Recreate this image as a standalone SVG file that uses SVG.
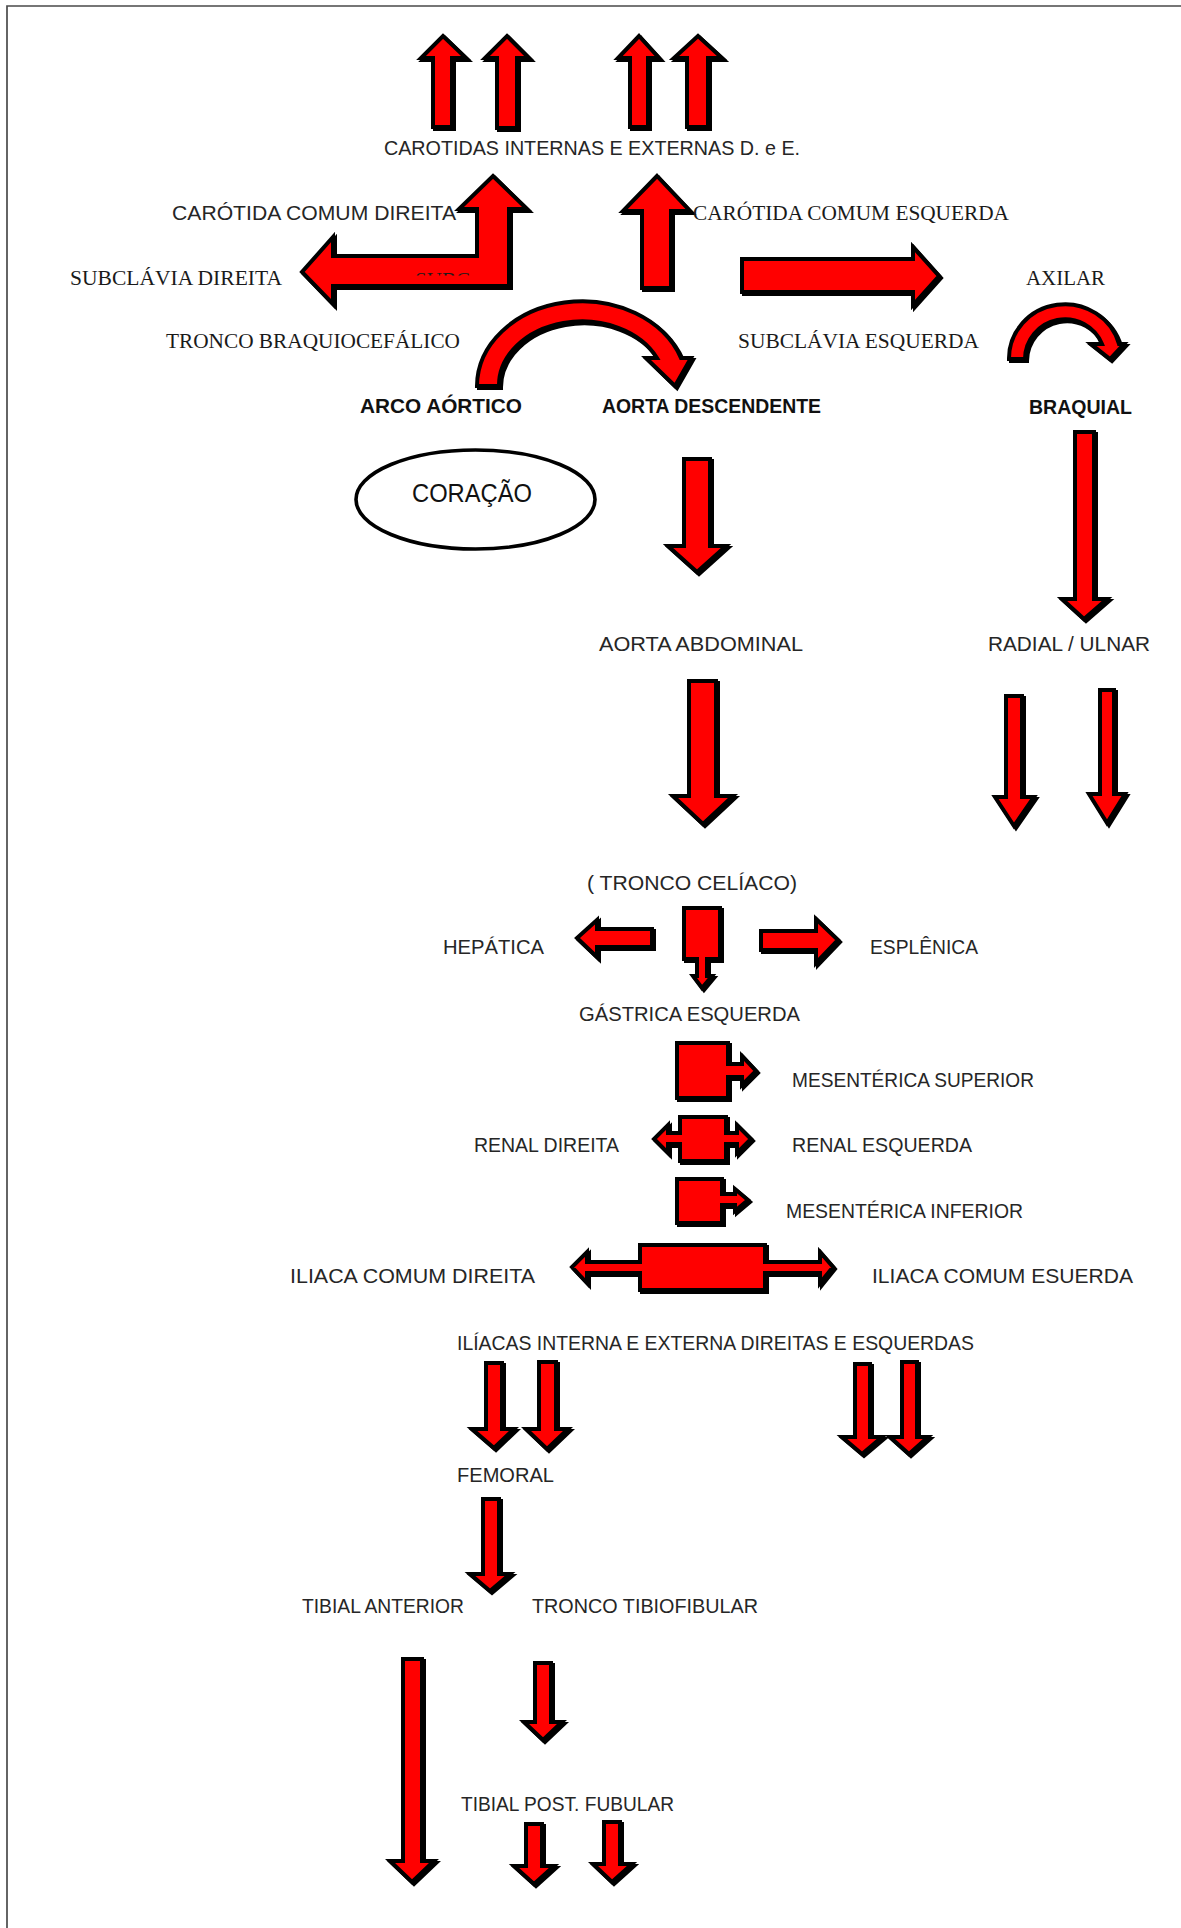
<svg xmlns="http://www.w3.org/2000/svg" width="1181" height="1928" viewBox="0 0 1181 1928">
<defs>
<filter id="sh" x="-20%" y="-20%" width="140%" height="140%">
<feDropShadow dx="2" dy="2" stdDeviation="0.4" flood-color="#000" flood-opacity="1"/>
</filter>
<clipPath id="subcClip"><rect x="410" y="268" width="70" height="7.5"/></clipPath>
<style>
.ar{fill:#ff0000;stroke:#000;stroke-width:4;stroke-linejoin:miter;stroke-miterlimit:10;filter:url(#sh)}
.s{font-family:"Liberation Sans",Arial,sans-serif;font-size:21px;fill:#262626}
.b{font-family:"Liberation Sans",Arial,sans-serif;font-size:21px;font-weight:bold;fill:#111}
.r{font-family:"Liberation Serif","Times New Roman",serif;font-size:20px;fill:#1a1a1a}
</style>
</defs>
<rect width="1181" height="1928" fill="#fff"/>
<path d="M1181 6 H7 V1928" fill="none" stroke="#4a4a4a" stroke-width="1.7"/>

<g id="connectors">
<path class="ar" d="M443 36 L466 58 H452 V127 H433 V58 H421 Z"/>
<path class="ar" d="M507 36 L529 58 H517 V128 H497 V58 H485 Z"/>
<path class="ar" d="M639 36 L659 58 H648 V127 H630 V58 H618 Z"/>
<path class="ar" d="M698 36 L722 58 H708 V127 H687 V58 H674 Z"/>
<path class="ar" d="M493 176 L527 209 H509 V286 H333 V304 L302 272 L333 237 V256 H477 V209 H459 Z"/>
<path class="ar" d="M657 176 L690 211 H671 V288 H642 V211 H623 Z"/>
<path class="ar" d="M742 259 H913 V247 L939 276 L913 305 V292 H742 Z"/>
<path class="ar" d="M477 386 A105 85 0 0 1 681 358 L691 358 L675 386 L646 358 L657 358 A83 64 0 0 0 499 386 Z"/>
<path class="ar" d="M1009 359 A56 54 0 0 1 1119 344 L1124 344 L1110 359 L1091 344 L1102 344 A40 40 0 0 0 1025 359 Z"/>
<path class="ar" d="M1075 432 H1094 V599 H1107 L1084 619 L1062 599 H1075 Z"/>
<path class="ar" d="M1006 696 H1022 V797 H1034 L1014 826 L995 797 H1006 Z"/>
<path class="ar" d="M1100 690 H1114 V794 H1125 L1107 823 L1089 794 H1100 Z"/>
<path class="ar" d="M684 459 H710 V546 H726 L697 572 L668 546 H684 Z"/>
<path class="ar" d="M689 681 H716 V796 H733 L703 824 L673 796 H689 Z"/>
<path class="ar" d="M652 929 V947 H597 V957 L577 938 L597 920 V929 Z"/>
<path class="ar" d="M761 931 H816 V919 L838 940 L816 963 V950 H761 Z"/>
<path class="ar" d="M486 1363 H502 V1429 H514 L494 1448 L472 1429 H486 Z"/>
<path class="ar" d="M539 1362 H556 V1429 H568 L547 1449 L526 1429 H539 Z"/>
<path class="ar" d="M855 1364 H870 V1437 H882 L862 1454 L842 1437 H855 Z"/>
<path class="ar" d="M902 1362 H917 V1437 H928 L909 1454 L890 1437 H902 Z"/>
<path class="ar" d="M483 1499 H499 V1574 H510 L490 1591 L470 1574 H483 Z"/>
<path class="ar" d="M403 1659 H422 V1861 H434 L412 1882 L390 1861 H403 Z"/>
<path class="ar" d="M535 1663 H551 V1722 H562 L543 1740 L524 1722 H535 Z"/>
<path class="ar" d="M526 1824 H542 V1866 H554 L534 1884 L514 1866 H526 Z"/>
<path class="ar" d="M604 1822 H620 V1864 H632 L612 1882 L593 1864 H604 Z"/>
</g>

<g id="tronco-celiaco-shape"><path class="ar" d="M684 908 H720 V959 H707 V976 H712 L702 988 L693 976 H697 V959 H684 Z"/></g>
<g id="mesenterica-superior-shape"><path class="ar" d="M677 1043 H728 V1064 H742 V1056 L756 1071 L742 1085 V1077 H728 V1098 H677 Z"/></g>
<g id="renal-shape"><path class="ar" d="M680 1117 H726 V1133 H737 V1125 L751 1139 L737 1153 V1144 H726 V1161 H680 V1144 H668 V1153 L654 1139 L668 1125 V1133 H680 Z"/></g>
<g id="mesenterica-inferior-shape"><path class="ar" d="M677 1179 H722 V1194 H735 V1189 L748 1200 L735 1211 V1205 H722 V1223 H677 Z"/></g>
<g id="iliaca-shape"><path class="ar" d="M640 1245 H765 V1262 H820 V1252 L833 1267 L820 1283 V1273 H765 V1290 H640 V1273 H587 V1283 L572 1267 L587 1252 V1262 H640 Z"/></g>

<g id="coracao">
<ellipse cx="475.5" cy="499.5" rx="119.5" ry="49.5" fill="#fff" stroke="#000" stroke-width="3.6"/>
<text x="412" y="502" font-family="'Liberation Sans',Arial,sans-serif" font-size="26" fill="#111" textLength="120" lengthAdjust="spacingAndGlyphs">CORAÇÃO</text>
</g>

<g id="subc-fragment"><text class="r" x="415" y="287" textLength="55" lengthAdjust="spacingAndGlyphs" clip-path="url(#subcClip)">SUBC</text></g>

<g id="carotidas"><text class="s" x="384" y="155" textLength="416" lengthAdjust="spacingAndGlyphs">CAROTIDAS INTERNAS E EXTERNAS D. e E.</text></g>
<g id="carotida-direita"><text class="s" x="172" y="220" textLength="284" lengthAdjust="spacingAndGlyphs">CARÓTIDA COMUM DIREITA</text></g>
<g id="carotida-esquerda"><text class="r" x="693" y="220" textLength="316" lengthAdjust="spacingAndGlyphs">CARÓTIDA COMUM ESQUERDA</text></g>
<g id="subclavia-direita"><text class="r" x="70" y="285" textLength="212" lengthAdjust="spacingAndGlyphs">SUBCLÁVIA DIREITA</text></g>
<g id="axilar"><text class="r" x="1026" y="285" textLength="79" lengthAdjust="spacingAndGlyphs">AXILAR</text></g>
<g id="tronco-braquiocefalico"><text class="r" x="166" y="348" textLength="294" lengthAdjust="spacingAndGlyphs">TRONCO BRAQUIOCEFÁLICO</text></g>
<g id="subclavia-esquerda"><text class="r" x="738" y="348" textLength="241" lengthAdjust="spacingAndGlyphs">SUBCLÁVIA ESQUERDA</text></g>
<g id="arco-aortico"><text class="b" x="360" y="413" textLength="162" lengthAdjust="spacingAndGlyphs">ARCO AÓRTICO</text></g>
<g id="aorta-descendente"><text class="b" x="602" y="413" textLength="219" lengthAdjust="spacingAndGlyphs">AORTA DESCENDENTE</text></g>
<g id="braquial"><text class="b" x="1029" y="414" textLength="103" lengthAdjust="spacingAndGlyphs">BRAQUIAL</text></g>
<g id="aorta-abdominal"><text class="s" x="599" y="651" textLength="204" lengthAdjust="spacingAndGlyphs">AORTA ABDOMINAL</text></g>
<g id="radial-ulnar"><text class="s" x="988" y="651" textLength="162" lengthAdjust="spacingAndGlyphs">RADIAL / ULNAR</text></g>
<g id="tronco-celiaco"><text class="s" x="587" y="890" textLength="210" lengthAdjust="spacingAndGlyphs">( TRONCO CELÍACO)</text></g>
<g id="hepatica"><text class="s" x="443" y="954" textLength="101" lengthAdjust="spacingAndGlyphs">HEPÁTICA</text></g>
<g id="esplenica"><text class="s" x="870" y="954" textLength="108" lengthAdjust="spacingAndGlyphs">ESPLÊNICA</text></g>
<g id="gastrica"><text class="s" x="579" y="1021" textLength="221" lengthAdjust="spacingAndGlyphs">GÁSTRICA ESQUERDA</text></g>
<g id="mesenterica-superior"><text class="s" x="792" y="1087" textLength="242" lengthAdjust="spacingAndGlyphs">MESENTÉRICA SUPERIOR</text></g>
<g id="renal-direita"><text class="s" x="474" y="1152" textLength="145" lengthAdjust="spacingAndGlyphs">RENAL DIREITA</text></g>
<g id="renal-esquerda"><text class="s" x="792" y="1152" textLength="180" lengthAdjust="spacingAndGlyphs">RENAL ESQUERDA</text></g>
<g id="mesenterica-inferior"><text class="s" x="786" y="1218" textLength="237" lengthAdjust="spacingAndGlyphs">MESENTÉRICA INFERIOR</text></g>
<g id="iliaca-direita"><text class="s" x="290" y="1283" textLength="245" lengthAdjust="spacingAndGlyphs">ILIACA COMUM DIREITA</text></g>
<g id="iliaca-esquerda"><text class="s" x="872" y="1283" textLength="261" lengthAdjust="spacingAndGlyphs">ILIACA COMUM ESUERDA</text></g>
<g id="iliacas"><text class="s" x="457" y="1350" textLength="517" lengthAdjust="spacingAndGlyphs">ILÍACAS INTERNA E EXTERNA DIREITAS E ESQUERDAS</text></g>
<g id="femoral"><text class="s" x="457" y="1482" textLength="97" lengthAdjust="spacingAndGlyphs">FEMORAL</text></g>
<g id="tibial-anterior"><text class="s" x="302" y="1613" textLength="162" lengthAdjust="spacingAndGlyphs">TIBIAL ANTERIOR</text></g>
<g id="tronco-tibiofibular"><text class="s" x="532" y="1613" textLength="226" lengthAdjust="spacingAndGlyphs">TRONCO TIBIOFIBULAR</text></g>
<g id="tibial-post"><text class="s" x="461" y="1811" textLength="213" lengthAdjust="spacingAndGlyphs">TIBIAL POST. FUBULAR</text></g>
</svg>
